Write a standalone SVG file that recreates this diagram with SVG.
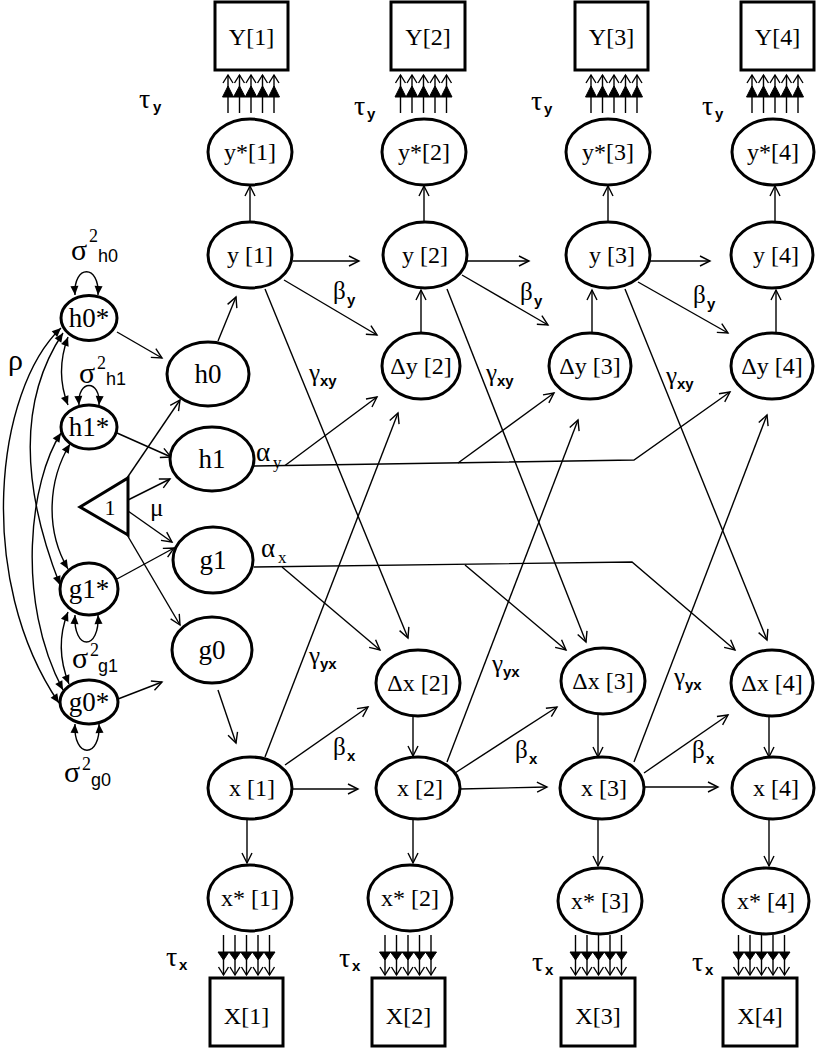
<svg xmlns="http://www.w3.org/2000/svg" width="816" height="1050" viewBox="0 0 816 1050">
<style>
.n{fill:#fff;stroke:#000;stroke-width:3}
.c{fill:none;stroke:#000;stroke-width:1.4;marker-end:url(#a)}
.d{fill:none;stroke:#000;stroke-width:1.4;marker-start:url(#f);marker-end:url(#f)}
.t{font-family:"Liberation Serif","Times New Roman",serif;font-size:24px;text-anchor:middle;fill:#000}
.tl{font-size:27px}
.g{font-family:"Liberation Serif","Times New Roman",serif;font-size:25px;fill:#000}
.ta{font-size:28px}
.s{font-family:"Liberation Serif","Times New Roman",serif;font-size:30px;fill:#000}
.sp{font-family:"Liberation Serif","Times New Roman",serif;font-size:18px}
.ss{font-family:"Liberation Sans",Arial,sans-serif;font-size:18px}
.sb{font-family:"Liberation Sans",Arial,sans-serif;font-size:15px;font-weight:bold}
.sr{font-family:"Liberation Serif","Times New Roman",serif;font-size:17px}
</style>
<defs>
<marker id="a" markerUnits="userSpaceOnUse" markerWidth="14" markerHeight="14" viewBox="-12 -7 14 14" refX="0" refY="0" orient="auto"><path d="M-10,-5 L0,0 L-10,5" fill="none" stroke="#000" stroke-width="1.4"/></marker>
<marker id="f" markerUnits="userSpaceOnUse" markerWidth="12" markerHeight="12" viewBox="-10 -6 12 12" refX="0" refY="0" orient="auto-start-reverse"><path d="M-9,-4 L0,0 L-9,4 Z" fill="#000"/></marker>
<g id="tu" stroke="#000" stroke-width="1.4">
<path d="M-23,0V-38M-11.5,0V-38M0,0V-38M11.5,0V-38M23,0V-38" fill="none"/>
<path d="M-28.5,-16H28.5L23,-27L17.5,-16L11.5,-27L5.8,-16L0,-27L-5.8,-16L-11.5,-27L-17.5,-16L-23,-27Z" fill="#000" stroke-width="1"/>
<path d="M-28,-30L-23,-38L-18,-30M-16.5,-30L-11.5,-38L-6.5,-30M-5,-30L0,-38L5,-30M6.5,-30L11.5,-38L16.5,-30M18,-30L23,-38L28,-30" fill="none"/>
</g>
<g id="td" stroke="#000" stroke-width="1.4">
<path d="M-23,0V40M-11.5,0V40M0,0V40M11.5,0V40M23,0V40" fill="none"/>
<path d="M-28.5,17H28.5L23,25L17.5,17L11.5,25L5.8,17L0,25L-5.8,17L-11.5,25L-17.5,17L-23,25Z" fill="#000" stroke-width="1"/>
<path d="M-28,32L-23,40L-18,32M-16.5,32L-11.5,40L-6.5,32M-5,32L0,40L5,32M6.5,32L11.5,40L16.5,32M18,32L23,40L28,32" fill="none"/>
</g>
</defs>

<g id="connectors">
<line class="c" x1="117" y1="332" x2="162" y2="358"/>
<line class="c" x1="117" y1="433" x2="171" y2="457"/>
<line class="c" x1="117" y1="579" x2="174" y2="548"/>
<line class="c" x1="118" y1="699" x2="162" y2="682"/>
<line class="c" x1="127" y1="478" x2="180" y2="400"/>
<line class="c" x1="128" y1="500" x2="170" y2="479"/>
<line class="c" x1="128" y1="511" x2="172" y2="542"/>
<line class="c" x1="126" y1="533" x2="180" y2="625"/>
<line class="c" x1="218" y1="341" x2="236" y2="297"/>
<line class="c" x1="218" y1="690" x2="236" y2="743"/>
<path class="d" d="M75,295 C73,264 100,264 98,295"/>
<path class="d" d="M79,405 C77,379 101,379 99,405"/>
<path class="d" d="M75,615 C73,651 100,651 98,615"/>
<path class="d" d="M75,724 C73,759 101,759 99,724"/>
<path class="d" d="M68,337 Q55,372 68,405"/>
<path class="d" d="M68,612 Q54,647 69,684"/>
<path class="d" d="M61,328 C-5,390 -25,580 59,703"/>
<path class="d" d="M63,333 C25,390 15,470 60,585"/>
<path class="d" d="M61,433 C30,480 15,600 63,690"/>
<path class="d" d="M70,444 C48,480 45,530 68,569"/>
<line class="c" x1="250" y1="222" x2="250" y2="186"/>
<line class="c" x1="424" y1="222" x2="424" y2="186"/>
<line class="c" x1="608" y1="222" x2="608" y2="186"/>
<line class="c" x1="775" y1="222" x2="775" y2="186"/>
<line class="c" x1="293" y1="261" x2="359" y2="261"/>
<line class="c" x1="467" y1="261" x2="529" y2="261"/>
<line class="c" x1="650" y1="261" x2="710" y2="261"/>
<line class="c" x1="284" y1="280" x2="377" y2="335"/>
<line class="c" x1="462" y1="275" x2="548" y2="325"/>
<line class="c" x1="638" y1="282" x2="728" y2="333"/>
<line class="c" x1="421" y1="332" x2="421" y2="290"/>
<line class="c" x1="592" y1="332" x2="592" y2="290"/>
<line class="c" x1="776" y1="332" x2="776" y2="290"/>
<line class="c" x1="265" y1="289" x2="408" y2="638"/>
<line class="c" x1="447" y1="289" x2="586" y2="642"/>
<line class="c" x1="625" y1="289" x2="767" y2="640"/>
<line class="c" x1="265" y1="757" x2="398" y2="413"/>
<line class="c" x1="447" y1="762" x2="578" y2="420"/>
<line class="c" x1="634" y1="762" x2="767" y2="415"/>
<path class="c" d="M254,466 L634,460 L730,392"/>
<line class="c" x1="285" y1="465.5" x2="377" y2="397"/>
<line class="c" x1="458" y1="463" x2="554" y2="393"/>
<path class="c" d="M254,567 L632,562 L735,650"/>
<line class="c" x1="282" y1="567" x2="380" y2="650"/>
<line class="c" x1="465" y1="565" x2="566" y2="650"/>
<line class="c" x1="285" y1="765" x2="368" y2="707"/>
<line class="c" x1="455" y1="773" x2="557" y2="707"/>
<line class="c" x1="644" y1="773" x2="728" y2="715"/>
<line class="c" x1="293" y1="789" x2="358" y2="789"/>
<line class="c" x1="460" y1="789" x2="547" y2="787"/>
<line class="c" x1="645" y1="787" x2="718" y2="787"/>
<line class="c" x1="413" y1="717" x2="413" y2="756"/>
<line class="c" x1="598" y1="714" x2="598" y2="757"/>
<line class="c" x1="769" y1="716" x2="769" y2="757"/>
<line class="c" x1="247" y1="819" x2="247" y2="863"/>
<line class="c" x1="413" y1="819" x2="413" y2="863"/>
<line class="c" x1="598" y1="819" x2="598" y2="866"/>
<line class="c" x1="769" y1="819" x2="769" y2="866"/>
<use href="#tu" x="251" y="113"/>
<use href="#tu" x="423.5" y="113"/>
<use href="#tu" x="614" y="113"/>
<use href="#tu" x="775" y="113"/>
<use href="#td" x="246.5" y="935"/>
<use href="#td" x="408" y="935"/>
<use href="#td" x="598.5" y="935"/>
<use href="#td" x="761.5" y="935"/>
</g>

<g id="Y1"><rect class="n" x="215" y="2" width="73" height="68"/><text class="t" x="251.5" y="45">Y[1]</text></g>
<g id="Y2"><rect class="n" x="391" y="2" width="74" height="68"/><text class="t" x="428" y="45">Y[2]</text></g>
<g id="Y3"><rect class="n" x="575" y="2" width="73" height="68"/><text class="t" x="611.5" y="45">Y[3]</text></g>
<g id="Y4"><rect class="n" x="741" y="2" width="73" height="68"/><text class="t" x="777.5" y="45">Y[4]</text></g>

<g id="ys1"><ellipse class="n" cx="250" cy="152" rx="42" ry="33"/><text class="t" x="250" y="160">y*[1]</text></g>
<g id="ys2"><ellipse class="n" cx="424" cy="152" rx="42" ry="33"/><text class="t" x="424" y="160">y*[2]</text></g>
<g id="ys3"><ellipse class="n" cx="608" cy="152" rx="42" ry="33"/><text class="t" x="608" y="160">y*[3]</text></g>
<g id="ys4"><ellipse class="n" cx="773" cy="152" rx="41" ry="33"/><text class="t" x="773" y="160">y*[4]</text></g>

<g id="y1"><ellipse class="n" cx="250" cy="255" rx="42" ry="33"/><text class="t" x="250" y="263">y [1]</text></g>
<g id="y2"><ellipse class="n" cx="425" cy="255" rx="42" ry="33"/><text class="t" x="425" y="263">y [2]</text></g>
<g id="y3"><ellipse class="n" cx="608" cy="255" rx="42" ry="33"/><text class="t" x="612" y="263">y [3]</text></g>
<g id="y4"><ellipse class="n" cx="772" cy="255" rx="41" ry="33"/><text class="t" x="776" y="263">y [4]</text></g>

<g id="dy2"><ellipse class="n" cx="421" cy="366" rx="39" ry="33"/><text class="t" x="421" y="374">Δy [2]</text></g>
<g id="dy3"><ellipse class="n" cx="590" cy="366" rx="41" ry="33"/><text class="t" x="590" y="374">Δy [3]</text></g>
<g id="dy4"><ellipse class="n" cx="772" cy="366" rx="41" ry="33"/><text class="t" x="772" y="374">Δy [4]</text></g>

<g id="dx2"><ellipse class="n" cx="418" cy="683" rx="42" ry="33"/><text class="t" x="418" y="691">Δx [2]</text></g>
<g id="dx3"><ellipse class="n" cx="603" cy="681" rx="42" ry="33"/><text class="t" x="603" y="689">Δx [3]</text></g>
<g id="dx4"><ellipse class="n" cx="772" cy="683" rx="41" ry="33"/><text class="t" x="772" y="691">Δx [4]</text></g>

<g id="x1"><ellipse class="n" cx="250" cy="788" rx="42" ry="31"/><text class="t" x="252" y="796">x [1]</text></g>
<g id="x2"><ellipse class="n" cx="418" cy="788" rx="42" ry="31"/><text class="t" x="420" y="796">x [2]</text></g>
<g id="x3"><ellipse class="n" cx="602" cy="788" rx="42" ry="31"/><text class="t" x="604" y="796">x [3]</text></g>
<g id="x4"><ellipse class="n" cx="773" cy="788" rx="41" ry="31"/><text class="t" x="776" y="796">x [4]</text></g>

<g id="xs1"><ellipse class="n" cx="250" cy="898" rx="42" ry="33"/><text class="t" x="250" y="906">x* [1]</text></g>
<g id="xs2"><ellipse class="n" cx="410" cy="898" rx="42" ry="33"/><text class="t" x="410" y="906">x* [2]</text></g>
<g id="xs3"><ellipse class="n" cx="600" cy="901" rx="42" ry="33"/><text class="t" x="600" y="909">x* [3]</text></g>
<g id="xs4"><ellipse class="n" cx="766" cy="901" rx="43" ry="33"/><text class="t" x="766" y="909">x* [4]</text></g>

<g id="X1"><rect class="n" x="210" y="978" width="73" height="68"/><text class="t" x="246.5" y="1024">X[1]</text></g>
<g id="X2"><rect class="n" x="372" y="978" width="73" height="68"/><text class="t" x="408.5" y="1024">X[2]</text></g>
<g id="X3"><rect class="n" x="561" y="978" width="74" height="68"/><text class="t" x="598" y="1024">X[3]</text></g>
<g id="X4"><rect class="n" x="723" y="978" width="74" height="68"/><text class="t" x="760" y="1024">X[4]</text></g>

<g id="h0s"><ellipse class="n" cx="89" cy="318" rx="28" ry="22.5"/><text class="t tl" x="89" y="327">h0*</text></g>
<g id="h1s"><ellipse class="n" cx="89" cy="427" rx="28" ry="22"/><text class="t tl" x="89" y="436">h1*</text></g>
<g id="g1s"><ellipse class="n" cx="89" cy="589" rx="29" ry="26"/><text class="t tl" x="89" y="598">g1*</text></g>
<g id="g0s"><ellipse class="n" cx="89" cy="702" rx="29" ry="22"/><text class="t tl" x="89" y="711">g0*</text></g>

<g id="h0"><ellipse class="n" cx="208" cy="374" rx="41" ry="32"/><text class="t tl" x="208" y="383">h0</text></g>
<g id="h1"><ellipse class="n" cx="212" cy="459" rx="42" ry="32"/><text class="t tl" x="212" y="468">h1</text></g>
<g id="g1"><ellipse class="n" cx="213" cy="560" rx="40" ry="33"/><text class="t tl" x="213" y="569">g1</text></g>
<g id="g0"><ellipse class="n" cx="212" cy="650" rx="40" ry="33"/><text class="t tl" x="212" y="659">g0</text></g>

<g id="one"><path class="n" d="M80,507 L128,478 L128,535 Z"/><text class="t" x="110" y="515" style="font-size:22px">1</text></g>

<g id="labels">
<text class="s" x="71" y="260">σ<tspan class="sp" x="89" y="242">2</tspan><tspan class="ss" x="98" y="262">h0</tspan></text>
<text class="s" x="79" y="383">σ<tspan class="sp" x="97" y="369">2</tspan><tspan class="ss" x="106" y="385">h1</tspan></text>
<text class="s" x="72" y="668">σ<tspan class="sp" x="90" y="656">2</tspan><tspan class="ss" x="98" y="672">g1</tspan></text>
<text class="s" x="64" y="782">σ<tspan class="sp" x="82" y="770">2</tspan><tspan class="ss" x="91" y="786">g0</tspan></text>
<text class="s" x="8" y="370">ρ</text>
<text class="g" x="150" y="516">μ</text>
<text class="g" x="256" y="461" style="font-size:27px">α<tspan class="sr" x="273" y="468">y</tspan></text>
<text class="g" x="261" y="557" style="font-size:27px">α<tspan class="sr" x="278" y="563">x</tspan></text>
<text class="g ta" x="139" y="108">τ<tspan class="sb" x="153" y="112">y</tspan></text>
<text class="g ta" x="354" y="115">τ<tspan class="sb" x="367" y="119">y</tspan></text>
<text class="g ta" x="531" y="110">τ<tspan class="sb" x="544" y="114">y</tspan></text>
<text class="g ta" x="702" y="115">τ<tspan class="sb" x="715" y="119">y</tspan></text>
<text class="g ta" x="166" y="966">τ<tspan class="sb" x="179" y="970">x</tspan></text>
<text class="g ta" x="339" y="967">τ<tspan class="sb" x="352" y="971">x</tspan></text>
<text class="g ta" x="532" y="971">τ<tspan class="sb" x="545" y="975">x</tspan></text>
<text class="g ta" x="692" y="971">τ<tspan class="sb" x="705" y="975">x</tspan></text>
<text class="g" x="333" y="299">β<tspan class="sb" x="347" y="305">y</tspan></text>
<text class="g" x="520" y="300">β<tspan class="sb" x="534" y="306">y</tspan></text>
<text class="g" x="693" y="303">β<tspan class="sb" x="707" y="309">y</tspan></text>
<text class="g" x="333" y="755">β<tspan class="sb" x="347" y="761">x</tspan></text>
<text class="g" x="515" y="758">β<tspan class="sb" x="529" y="764">x</tspan></text>
<text class="g" x="692" y="758">β<tspan class="sb" x="706" y="764">x</tspan></text>
<text class="g" x="309" y="381">γ<tspan class="sb" x="320" y="386">xy</tspan></text>
<text class="g" x="486" y="381">γ<tspan class="sb" x="497" y="386">xy</tspan></text>
<text class="g" x="666" y="384">γ<tspan class="sb" x="677" y="389">xy</tspan></text>
<text class="g" x="309" y="664">γ<tspan class="sb" x="320" y="669">yx</tspan></text>
<text class="g" x="492" y="672">γ<tspan class="sb" x="503" y="677">yx</tspan></text>
<text class="g" x="674" y="685">γ<tspan class="sb" x="685" y="690">yx</tspan></text>
</g>
</svg>
